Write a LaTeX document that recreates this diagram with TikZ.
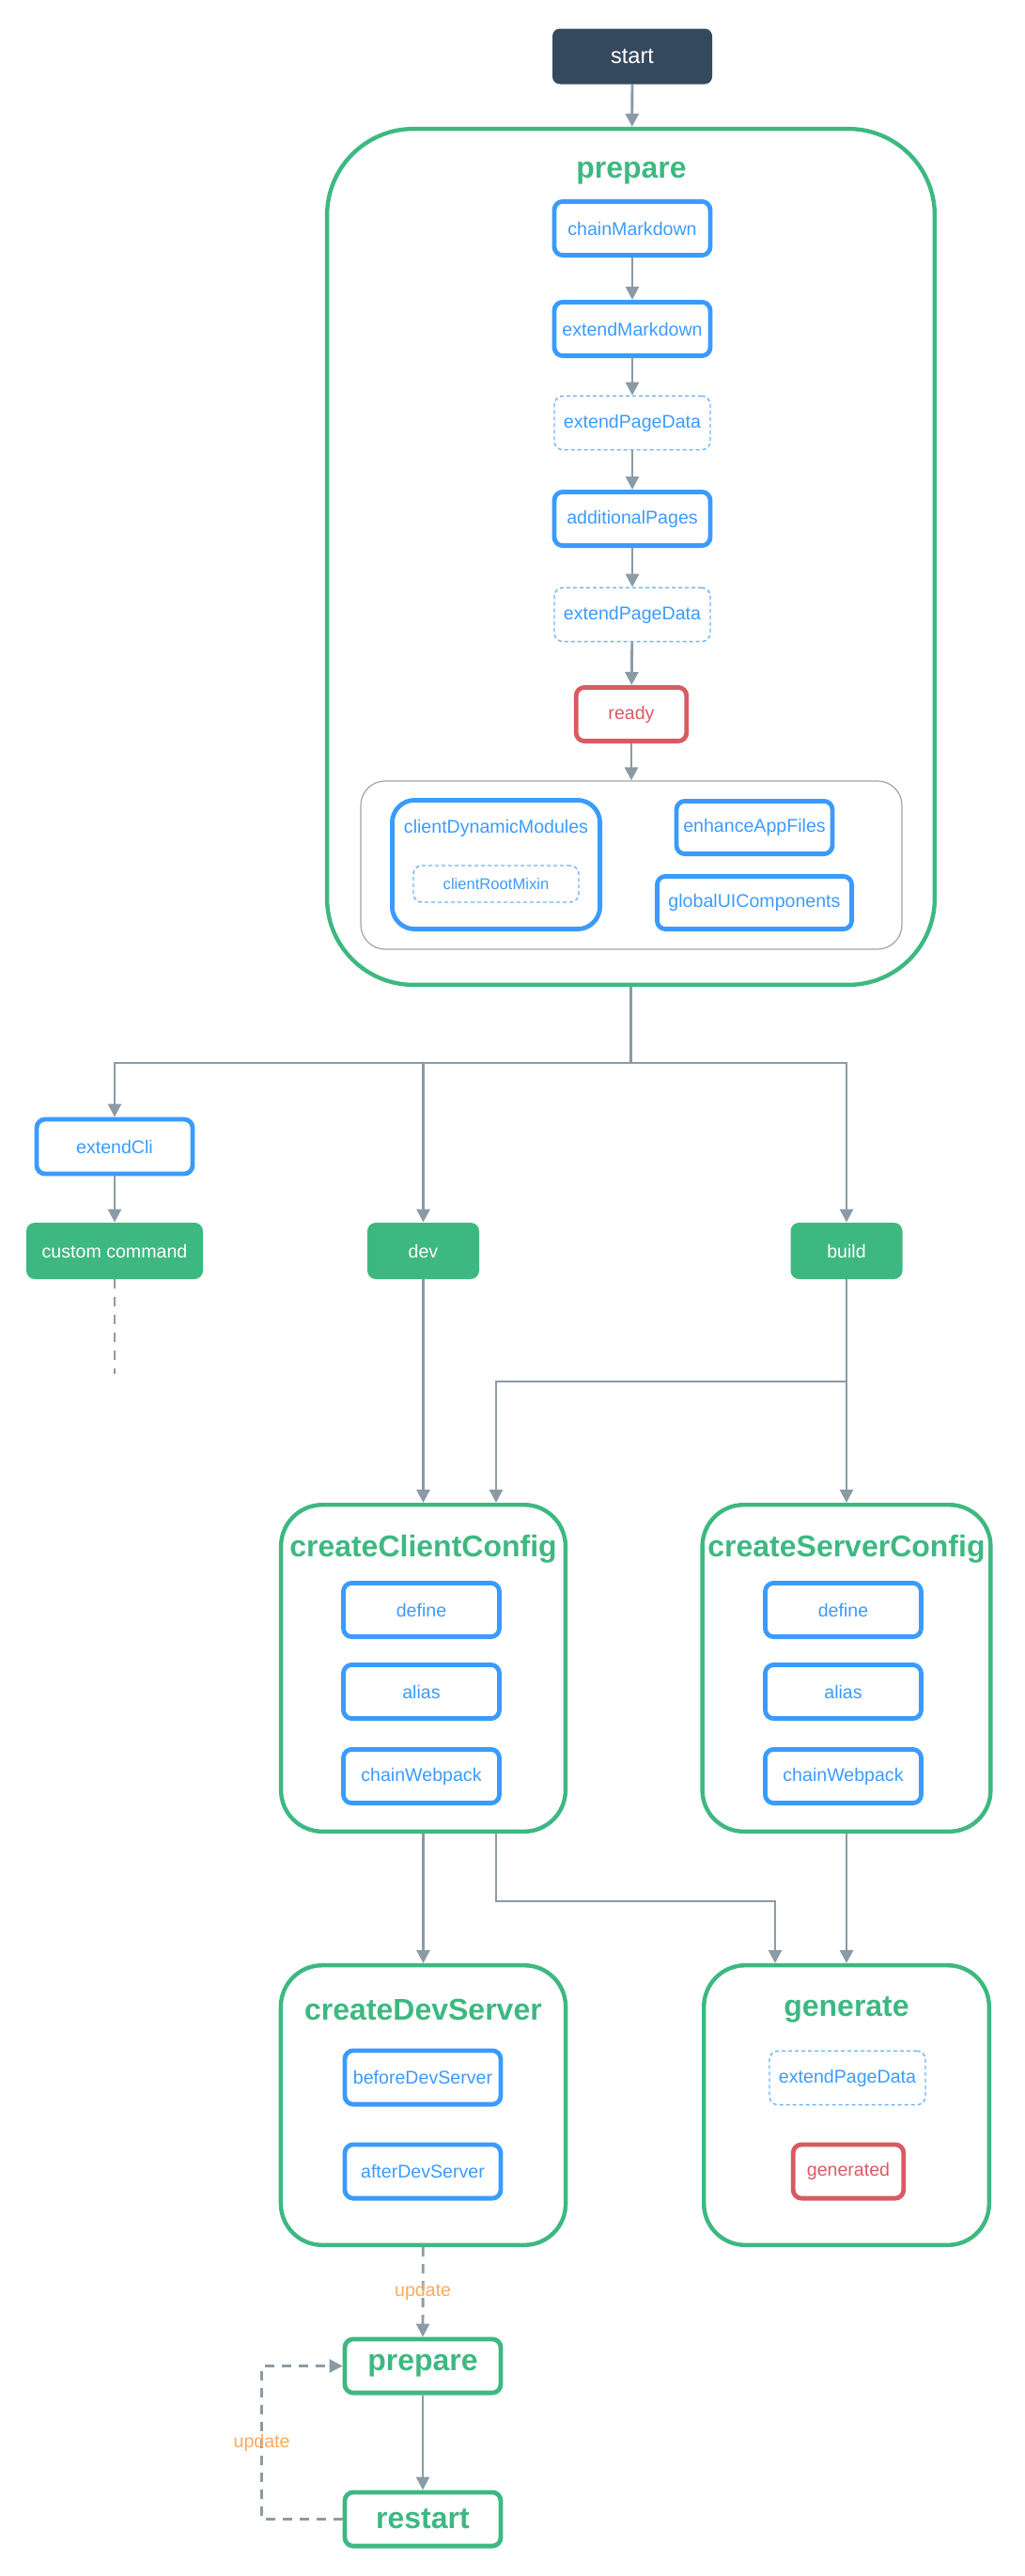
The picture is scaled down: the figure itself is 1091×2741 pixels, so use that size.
\documentclass[tikz,border=0pt]{standalone}
\usepackage{fontspec}
\setmainfont{Liberation Sans}
\usetikzlibrary{arrows.meta, calc}

\definecolor{vgreen}{HTML}{3EB881}
\definecolor{vblue}{HTML}{3A9BFF}
\definecolor{vred}{HTML}{DA5A62}
\definecolor{vdark}{HTML}{34495E}
\definecolor{vline}{HTML}{8A9BA6}
\definecolor{vorange}{HTML}{FFA95C}
\definecolor{vgrey}{HTML}{A3A3A3}

\tikzset{
  hook/.style={draw=vblue, line width=2.4pt, rounded corners=4.5pt, text=vblue,
    font=\fontsize{9.8}{11}\selectfont, minimum width=83pt, minimum height=28.6pt, inner sep=0pt},
  softhook/.style={draw=vblue!75, line width=0.7pt, dash pattern=on 2pt off 1.5pt},
  event/.style={hook, draw=vred, text=vred, minimum width=58.8pt},
  stage/.style={draw=vgreen, line width=2.2pt, rounded corners=22pt, inner sep=0pt},
  stagetitle/.style={text=vgreen, font=\fontsize{16}{19}\selectfont\bfseries, inner sep=0pt},
  cmd/.style={fill=vgreen, text=white, rounded corners=4.5pt, minimum height=30pt,
    font=\fontsize{9.8}{11}\selectfont, inner sep=0pt},
  flow/.style={draw=vline, line width=1.4pt, -{Triangle[length=7pt, width=7pt]}},
  wire/.style={draw=vline, line width=1.4pt},
  dashflow/.style={flow, dash pattern=on 5pt off 4pt},
  note/.style={text=vorange, font=\fontsize{9.8}{11}\selectfont, inner sep=0pt}
}

\begin{document}
\begin{tikzpicture}[x=0.5pt, y=-0.5pt]
    \useasboundingbox (0, 0) rectangle (1091, 2741);

    % start and the prepare stage
    \node (start) [fill=vdark, text=white, rounded corners=4pt, minimum width=85pt,
      minimum height=29.5pt, font=\fontsize{11.8}{14}\selectfont] at (673, 60) {start};
    \node (prep) [stage, rounded corners=46pt, minimum width=323.4pt, minimum height=455.4pt] at (671.5, 592.5) {};
    \node (prepTitle) [stagetitle] at (672, 184) {prepare};
    \begin{scope}[every node/.style={hook}]
      \node (chainMd) at (673, 243) {chainMarkdown};
      \node (extendMd) at (673, 350) {extendMarkdown};
      \node (pageDataA) [softhook] at (673, 450) {extendPageData};
      \node (addPages) at (673, 552) {additionalPages};
      \node (pageDataB) [softhook] at (673, 654) {extendPageData};
      \node (ready) [event] at (672, 760) {ready};
    \end{scope}

    % app hooks
    \node (appGroup) [draw=vgrey, line width=0.6pt, rounded corners=13pt, minimum width=288pt,
      minimum height=89.5pt] at (672, 920.5) {};
    \node (dynModules) [hook, rounded corners=12pt, minimum width=110.6pt, minimum height=68.6pt] at (528, 920) {};
    \node (dynTitle) [text=vblue, font=\fontsize{9.8}{11}\selectfont, inner sep=0pt] at (528, 881) {clientDynamicModules};
    \node (rootMixin) [hook, softhook, minimum width=88pt, minimum height=19.5pt,
      font=\fontsize{8.3}{10}\selectfont] at (528, 940.5) {clientRootMixin};
    \node (appFiles) [hook, minimum height=28.1pt] at (803, 880.5) {enhanceAppFiles};
    \node (uiComps) [hook, minimum width=103.6pt, minimum height=28.1pt] at (803, 960.5) {globalUIComponents};

    % commands
    \node (extendCli) [hook, minimum height=29pt] at (122, 1220) {extendCli};
    \node (custom) [cmd, minimum width=94pt] at (122, 1331) {custom command};
    \node (dev) [cmd, minimum width=59.5pt] at (450.5, 1331) {dev};
    \node (build) [cmd, minimum width=59.5pt] at (901, 1331) {build};

    % webpack config
    \node (clientCfg) [stage, minimum width=151.4pt, minimum height=173.8pt] at (450.5, 1775) {};
    \node (clientTitle) [stagetitle] at (450.5, 1648) {createClientConfig};
    \node (serverCfg) [stage, minimum width=153.4pt, minimum height=173.8pt] at (901, 1775) {};
    \node (serverTitle) [stagetitle] at (901, 1648) {createServerConfig};
    \begin{scope}[every node/.style={hook}]
      \node (defineC) at (448.5, 1713) {define};
      \node (aliasC) at (448.5, 1800) {alias};
      \node (chainWpC) at (448.5, 1890) {chainWebpack};
      \node (defineS) at (897.5, 1713) {define};
      \node (aliasS) at (897.5, 1800) {alias};
      \node (chainWpS) at (897.5, 1890) {chainWebpack};
    \end{scope}

    % dev server and generate
    \node (devServer) [stage, minimum width=151.6pt, minimum height=148.8pt] at (450.5, 2240) {};
    \node (devTitle) [stagetitle] at (450.5, 2138) {createDevServer};
    \node (beforeDev) [hook] at (450, 2210.5) {beforeDevServer};
    \node (afterDev) [hook] at (450, 2310.5) {afterDevServer};
    \node (generate) [stage, minimum width=151.8pt, minimum height=148.8pt] at (901, 2240) {};
    \node (genTitle) [stagetitle] at (901, 2138) {generate};
    \node (pageDataC) [hook, softhook] at (902, 2211) {extendPageData};
    \node (generated) [event] at (903, 2310.5) {generated};

    % update loop
    \node (prepAgain) [hook, draw=vgreen, text=vgreen, font=\fontsize{16}{19}\selectfont\bfseries] at (450, 2517.5) {prepare};
    \node (restart) [hook, draw=vgreen, text=vgreen, font=\fontsize{16}{19}\selectfont\bfseries] at (450, 2680.5) {restart};

    \coordinate (split) at (671.5, 1131);
    \coordinate (cmdEnd) at (122, 1462);
    \coordinate (buildSplit) at (901, 1470);
    \coordinate (genSplit) at (528, 2023);

    \draw[flow] (start) -- (prep);
    \draw[flow] (chainMd) -- (extendMd);
    \draw[flow] (extendMd) -- (pageDataA);
    \draw[flow] (pageDataA) -- (addPages);
    \draw[flow] (addPages) -- (pageDataB);
    \draw[flow] (pageDataB) -- (ready);
    \draw[flow] (ready) -- (appGroup);

    \draw[wire] (prep) -- (split);
    \draw[flow] (split) -| (extendCli);
    \draw[flow] (split) -| (dev);
    \draw[flow] (split) -| (build);
    \draw[flow] (extendCli) -- (custom);
    \draw[wire, dash pattern=on 5pt off 4.5pt] (custom) -- (cmdEnd);

    \draw[flow] (dev) -- (clientCfg);
    \draw[flow] (build) -- (serverCfg);
    \draw[flow] (buildSplit) -| ($(clientCfg.north)+(77.5, 0)$);

    \draw[flow] (clientCfg) -- (devServer);
    \draw[flow] ($(clientCfg.south)+(77.5, 0)$) -- (genSplit) -| ($(generate.north)+(-76, 0)$);
    \draw[flow] (serverCfg) -- (generate);

    \draw[dashflow] (devServer) -- node[note] {update} (prepAgain);
    \draw[flow] (prepAgain) -- (restart);
    \draw[dashflow] (restart.west) -- ++(-86, 0) |- node[note, pos=0.25] {update} (prepAgain.west);
\end{tikzpicture}
\end{document}
